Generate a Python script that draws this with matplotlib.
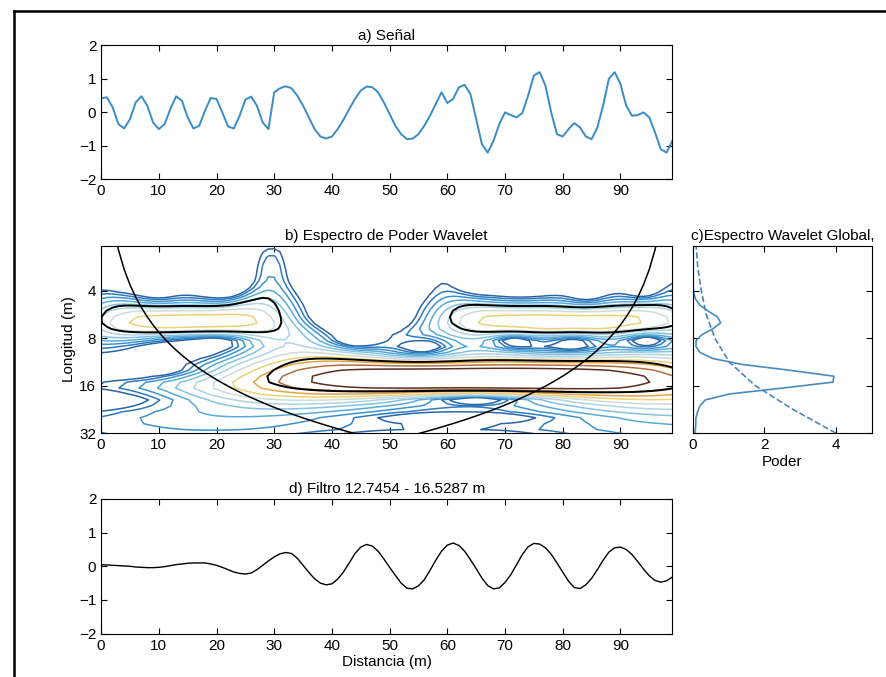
import numpy as np
import matplotlib.pyplot as plt
from matplotlib.lines import Line2D

plt.rcParams['font.family'] = ['Liberation Sans', 'DejaVu Sans']
plt.rcParams['font.size'] = 11

# Señal (un punto por metro)
distancia = np.arange(100)
senal = [0.42, 0.45, 0.15, -0.35, -0.48, -0.2, 0.3, 0.48, 0.2, -0.3,
         -0.5, -0.35, 0.1, 0.48, 0.35, -0.15, -0.48, -0.4, 0.05, 0.43,
         0.4, 0.0, -0.42, -0.48, -0.1, 0.38, 0.47, 0.2, -0.3, -0.5,
         0.6, 0.72, 0.78, 0.72, 0.5, 0.2, -0.15, -0.5, -0.72, -0.78,
         -0.72, -0.5, -0.22, 0.1, 0.4, 0.65, 0.77, 0.75, 0.6, 0.3,
         -0.05, -0.4, -0.65, -0.8, -0.78, -0.65, -0.4, -0.1, 0.25, 0.6,
         0.28, 0.4, 0.75, 0.82, 0.55, -0.2, -0.95, -1.2, -0.85, -0.35,
         0.0, -0.08, -0.15, -0.02, 0.5, 1.1, 1.2, 0.8, 0.0, -0.65,
         -0.72, -0.5, -0.32, -0.45, -0.72, -0.8, -0.45, 0.2, 1.0, 1.2,
         0.85, 0.2, -0.1, -0.08, 0.0, -0.15, -0.6, -1.1, -1.2, -0.85]

# Señal filtrada 12.7454 - 16.5287 m (panel d)
filtro = [0.05, 0.04, 0.03, 0.02, 0.01, 0.0, -0.02, -0.03, -0.04, -0.04,
          -0.03, -0.01, 0.02, 0.05, 0.07, 0.09, 0.1, 0.1, 0.1, 0.07,
          0.03, -0.03, -0.1, -0.17, -0.21, -0.23, -0.2, -0.1, 0.03, 0.16,
          0.28, 0.37, 0.41, 0.38, 0.24, 0.03, -0.18, -0.37, -0.5, -0.55,
          -0.52, -0.38, -0.17, 0.1, 0.38, 0.57, 0.65, 0.6, 0.45, 0.22,
          -0.03, -0.27, -0.5, -0.65, -0.67, -0.58, -0.4, -0.12, 0.18, 0.45,
          0.63, 0.69, 0.62, 0.45, 0.2, -0.07, -0.35, -0.57, -0.67, -0.64,
          -0.48, -0.25, 0.05, 0.35, 0.58, 0.68, 0.66, 0.55, 0.36, 0.1,
          -0.17, -0.44, -0.63, -0.66, -0.55, -0.36, -0.1, 0.18, 0.42, 0.55,
          0.57, 0.5, 0.35, 0.14, -0.08, -0.28, -0.42, -0.47, -0.43, -0.32]

# Nivel de significancia global (linea discontinua del panel c)
sig_periodo = [2.0, 2.83, 4.0, 5.66, 8.0, 11.3, 16.0, 22.6, 32.0]
sig_global = [0.09, 0.14, 0.24, 0.38, 0.62, 1.02, 1.75, 2.8, 4.0]

# Parametros de la transformada (Morlet, Torrence & Compo)
dt = 1.0
dj = 0.125
s0 = 2 * dt
j1 = 32
k0 = 6.0
lag1 = 0.8

# Niveles de contorno (log2 del poder normalizado) y su color
niveles = [-3.0, -2.35, -1.7, -1.05, -0.4, 0.25, 0.9, 1.55, 2.2, 2.85, 3.5]
colores = ['#2b65a8', '#2f7bbd', '#3d93cc', '#59aad8', '#85c2e0', '#afd4e3',
           '#d0dada', '#e9d27a', '#e6a545', '#b07040', '#5a3020']

# Transformada wavelet continua
y = np.array(senal)
n1 = len(y)
varianza = np.var(y)
x = y - y.mean()
base2 = int(np.fix(np.log2(n1) + 0.4999))
x = np.concatenate([x, np.zeros(2 ** (base2 + 1) - n1)])
n = len(x)
kpos = np.arange(1, n // 2 + 1)
k = np.concatenate([[0.0], kpos, -kpos[:(n - 1) // 2][::-1]]) * 2 * np.pi / (n * dt)
f = np.fft.fft(x)
escala = s0 * 2 ** (np.arange(j1 + 1) * dj)
fourier_factor = 4 * np.pi / (k0 + np.sqrt(2 + k0 ** 2))
periodo = fourier_factor * escala
onda = np.zeros((j1 + 1, n), dtype=complex)
for i, s in enumerate(escala):
    expnt = -(s * k - k0) ** 2 / 2 * (k > 0)
    norm = np.sqrt(s * k[1]) * np.pi ** -0.25 * np.sqrt(n)
    onda[i] = np.fft.ifft(f * norm * np.exp(expnt) * (k > 0))
onda = onda[:, :n1]
poder = np.abs(onda) ** 2
global_ws = poder.mean(axis=1)

# Significancia 95% (ruido rojo)
frec = dt / periodo
p_k = (1 - lag1 ** 2) / (1 + lag1 ** 2 - 2 * lag1 * np.cos(2 * np.pi * frec))
signif = varianza * p_k * 5.9915 / 2
sig95 = poder / signif[:, None]

# Cono de influencia
coi = fourier_factor / np.sqrt(2) * dt * np.maximum(np.minimum(distancia, n1 - 1 - distancia), 1e-5)

# Figura
fig = plt.figure(figsize=(8.87, 6.77), dpi=100)
ax1 = fig.add_axes([0.114, 0.735, 0.644, 0.198])
ax2 = fig.add_axes([0.114, 0.360, 0.644, 0.277])
ax3 = fig.add_axes([0.781, 0.360, 0.202, 0.277])
ax4 = fig.add_axes([0.114, 0.064, 0.644, 0.199])

for ax in (ax1, ax2, ax3, ax4):
    ax.tick_params(direction='in', top=True, right=True, length=4, width=0.8)

# a) Señal
ax1.plot(distancia, senal, color='#3a8cc6', lw=1.4)
ax1.set_xlim(0, 99)
ax1.set_ylim(-2, 2)
ax1.set_xticks(range(0, 100, 10))
ax1.set_yticks([-2, -1, 0, 1, 2])
ax1.set_title('a) Señal', fontsize=11, pad=4)

# b) Espectro de poder wavelet
ax2.contour(distancia, np.log2(periodo), np.log2(poder / varianza), levels=niveles,
            colors=colores, linewidths=1.1)
ax2.contour(distancia, np.log2(periodo), sig95, levels=[1], colors='k', linewidths=1.4)
ax2.plot(distancia, np.log2(coi), 'k', lw=1.1)
ax2.set_xlim(0, 99)
ax2.set_ylim(5, np.log2(periodo[0]))
ax2.set_xticks(range(0, 100, 10))
ax2.set_yticks([2, 3, 4, 5])
ax2.set_yticklabels(['4', '8', '16', '32'])
ax2.set_ylabel('Longitud (m)', labelpad=2)
ax2.set_title('b) Espectro de Poder Wavelet', fontsize=11, pad=4)

# c) Espectro wavelet global
ax3.plot(global_ws, np.log2(periodo), color='#4a8bbf', lw=1.2)
ax3.plot(sig_global, np.log2(sig_periodo), '--', color='#4a86b8', lw=1.2)
ax3.set_xlim(0, 5)
ax3.set_ylim(5, np.log2(periodo[0]))
ax3.set_xticks([0, 2, 4])
ax3.set_yticks([2, 3, 4, 5])
ax3.set_yticklabels([])
ax3.set_xlabel('Poder', labelpad=2)
ax3.set_title('c)Espectro Wavelet Global,', fontsize=11, pad=4)

# d) Filtro
ax4.plot(distancia, filtro, color='k', lw=1.0)
ax4.set_xlim(0, 99)
ax4.set_ylim(-2, 2)
ax4.set_xticks(range(0, 100, 10))
ax4.set_yticks([-2, -1, 0, 1, 2])
ax4.set_xlabel('Distancia (m)', labelpad=2)
ax4.set_title('d) Filtro 12.7454 - 16.5287 m', fontsize=11, pad=4)

# Marco de la pagina escaneada
fig.add_artist(Line2D([14 / 887, 14 / 887], [0, 1 - 11 / 677], color='k', lw=1.8,
                      transform=fig.transFigure))
fig.add_artist(Line2D([14 / 887, 1], [1 - 11 / 677, 1 - 11 / 677], color='k', lw=1.8,
                      transform=fig.transFigure))

fig.savefig('out.png', dpi=100)
